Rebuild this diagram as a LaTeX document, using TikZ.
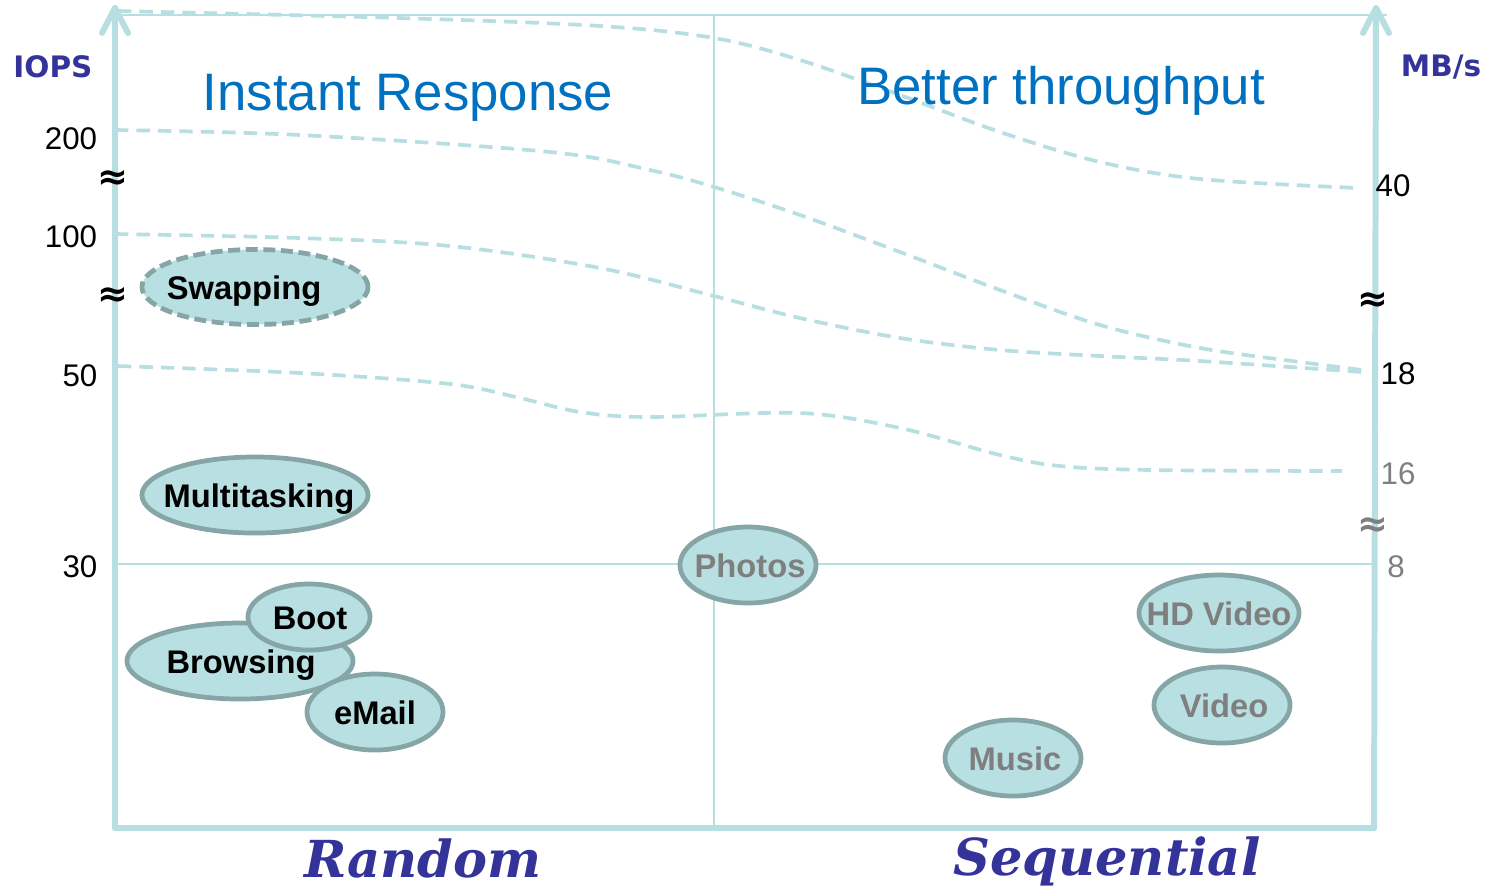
\documentclass[tikz,border=0pt]{standalone}
\usepackage{fontspec}
\setmainfont{Liberation Sans}
\newfontfamily\dvs{DejaVu Sans}
\newfontfamily\dvserif{DejaVu Serif}
\usetikzlibrary{shapes.geometric,calc}
\definecolor{axisc}{HTML}{B7DEE1}
\definecolor{fillc}{HTML}{B8DFE2}
\definecolor{edgec}{HTML}{86A5A6}
\definecolor{navy}{HTML}{333399}
\definecolor{titleblue}{HTML}{0070C0}
\definecolor{greytxt}{HTML}{7F7F7F}
\begin{document}
\begin{tikzpicture}[x=0.01cm,y=-0.01cm,
  axisline/.style={draw=axisc,line width=1.7pt,line cap=round,line join=round},
  thinline/.style={draw=axisc,line width=0.6pt},
  curve/.style={draw=axisc,line width=1.05pt,dash pattern=on 3.8pt off 2.3pt},
  bubble/.style={ellipse,fill=fillc,draw=edgec,line width=1.35pt,inner sep=0pt},
  btext/.style={font=\bfseries\fontsize{9.3}{11}\selectfont,inner sep=0pt,anchor=base},
  gtext/.style={btext,text=greytxt},
  tick/.style={font=\fontsize{8.9}{10}\selectfont,inner sep=0pt},
  gtick/.style={tick,text=greytxt},
  approx/.style={font=\dvs\bfseries\fontsize{10.5}{12}\selectfont,inner sep=0pt},
  unit/.style={font=\dvs\bfseries\fontsize{8.4}{10}\selectfont,text=navy,inner sep=0pt},
  title/.style={font=\fontsize{15}{18}\selectfont,text=titleblue,inner sep=0pt},
  xlab/.style={font=\dvserif\bfseries\itshape\fontsize{14.5}{18}\selectfont,text=navy,inner sep=0pt}
]
\useasboundingbox (0,0) rectangle (1495,890);
% coordinates
\coordinate (lb) at (115,828);
\coordinate (lt) at (115,8);
\coordinate (rb) at (1374,828);
\coordinate (rt) at (1376,8);
\coordinate (tl) at (122,15);
\coordinate (tr) at (1387,15);
\coordinate (mt) at (714,15);
\coordinate (mb) at (714,828);
\coordinate (hl) at (115,564);
\coordinate (hr) at (1374,564);
% thin grid lines
\draw[thinline] (tl) -- (tr);
\draw[thinline] (mt) -- (mb);
\draw[thinline] (hl) -- (hr);
% dashed curves
\draw[curve] plot[smooth,tension=0.55] coordinates {(118,11) (400,18) (600,26) (714,38) (800,60) (900,95) (1000,132) (1100,162) (1200,179) (1358,188)};
\draw[curve] plot[smooth,tension=0.55] coordinates {(115,130) (300,135) (550,152) (650,170) (714,187) (800,215) (900,252) (1000,290) (1100,325) (1200,348) (1300,362) (1362,370)};
\draw[curve] plot[smooth,tension=0.55] coordinates {(115,234) (300,238) (450,246) (600,268) (714,296) (800,318) (900,338) (1000,350) (1100,356) (1200,361) (1362,372)};
\draw[curve] plot[smooth,tension=0.55] coordinates {(118,366) (300,373) (450,384) (520,398) (580,412) (650,417) (800,413) (900,428) (1000,455) (1060,466) (1150,470) (1342,471)};
% axes
\draw[axisline] (lb) -- (lt);
\draw[axisline] ($(lt)+(-13,25)$) -- (lt) -- ($(lt)+(13,25)$);
\draw[axisline] (rb) -- (rt);
\draw[axisline] ($(rt)+(-13,25)$) -- (rt) -- ($(rt)+(13,25)$);
\draw[axisline] (lb) -- (rb);
% axis labels
\node[unit] (iops) at (53,67) {IOPS};
\node[unit] (mbs) at (1441,67) {MB/s};
\node[tick] (t200) at (71,139) {200};
\node[tick] (t100) at (71,237) {100};
\node[tick] (t50) at (80,376) {50};
\node[tick] (t30) at (80,567) {30};
\node[approx] (a1) at (113,180) {≈};
\node[approx] (a2) at (113,297) {≈};
\node[tick] (t40) at (1393,186) {40};
\node[approx] (a3) at (1373,302) {≈};
\node[tick] (t18) at (1398,374) {18};
\node[gtick] (t16) at (1398,474) {16};
\node[approx,text=greytxt] (a4) at (1373,527) {≈};
\node[gtick] (t8) at (1396,567) {8};
% titles
\node[title] (inst) at (408,98) {Instant Response};
\node[title] (thru) at (1061,91) {Better throughput};
\node[xlab] (rand) at (423,858) {Random};
\node[xlab] (seq) at (1107,861) {Sequential};
% bubbles
\node[bubble,dash pattern=on 3.4pt off 1.6pt,minimum width=2.26cm,minimum height=0.75cm] (swp) at (255,287) {};
\node[btext] (swpt) at ($(swp)+(-11,12)$) {Swapping};
\node[bubble,minimum width=2.26cm,minimum height=0.76cm] (mt2) at (255,495) {};
\node[btext] (mt2t) at ($(mt2)+(4,12)$) {Multitasking};
\node[bubble,minimum width=2.26cm,minimum height=0.76cm] (brw) at (240,661) {};
\node[btext] (brwt) at ($(brw)+(1,12)$) {Browsing};
\node[bubble,minimum width=1.22cm,minimum height=0.66cm] (boot) at (309,617) {};
\node[btext] (boott) at ($(boot)+(1,12)$) {Boot};
\node[bubble,minimum width=1.36cm,minimum height=0.76cm] (eml) at (375,712) {};
\node[btext] (emlt) at ($(eml)+(0,12)$) {eMail};
\node[bubble,minimum width=1.36cm,minimum height=0.76cm] (pho) at (748,565) {};
\node[gtext] (phot) at ($(pho)+(2,12)$) {Photos};
\node[bubble,minimum width=1.6cm,minimum height=0.76cm] (hdv) at (1219,613) {};
\node[gtext] (hdvt) at ($(hdv)+(0,12)$) {HD Video};
\node[bubble,minimum width=1.36cm,minimum height=0.76cm] (vid) at (1222,705) {};
\node[gtext] (vidt) at ($(vid)+(2,12)$) {Video};
\node[bubble,minimum width=1.36cm,minimum height=0.76cm] (mus) at (1013,758) {};
\node[gtext] (must) at ($(mus)+(2,12)$) {Music};
\end{tikzpicture}
\end{document}
